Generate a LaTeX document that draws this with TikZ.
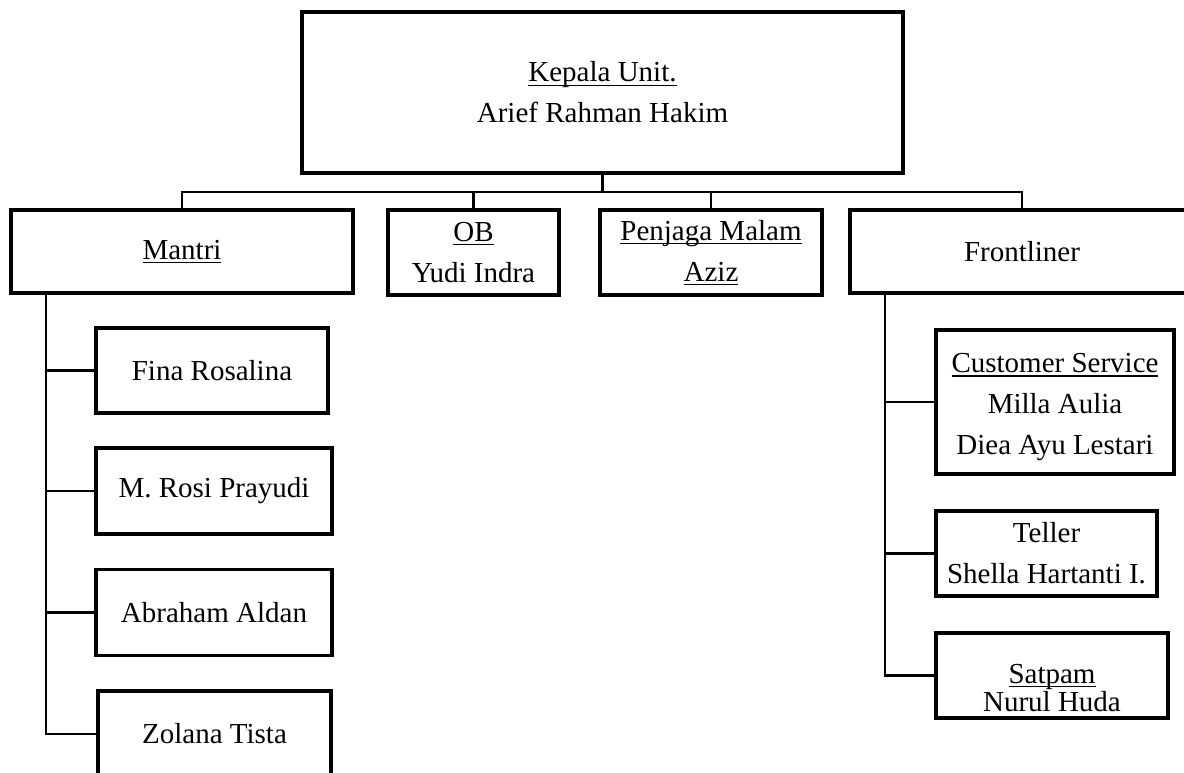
\documentclass[tikz,border=0pt]{standalone}
\usepackage{fontspec}
\setmainfont{Liberation Serif}

% underline at a fixed depth, as the word processor draws it
\newcommand{\undr}[1]{\setbox0\hbox{#1}\rlap{\rule[-4pt]{\wd0}{1.4pt}}\box0}

\tikzset{
  box/.style={draw, line width=3.4pt, rectangle, align=center, inner sep=0pt},
  link/.style={line width=2.3pt},
}

\begin{document}
\begin{tikzpicture}[x=1pt, y=-1pt, font=\fontsize{29}{41}\selectfont]
  \clip (0,0) rectangle (1184,773);
  \useasboundingbox (0,0) rectangle (1184,773);

  % head of the unit
  \node[box, minimum width=601pt, minimum height=161pt] (kepala) at (602.5,92.5)
    {\undr{Kepala Unit.}\\Arief Rahman Hakim};

  % second row
  \node[box, minimum width=342pt, minimum height=83pt] (mantri) at (182,251.5) {\undr{Mantri}};
  \node[box, minimum width=171pt, minimum height=85pt] (ob) at (473.5,252.5) {\undr{OB}\\Yudi Indra};
  \node[box, minimum width=222pt, minimum height=85pt] (penjaga) at (711,252.5) {\undr{Penjaga Malam}\\\undr{Aziz}};
  \node[box, minimum width=344pt, minimum height=83pt] (front) at (1022,251.5) {Frontliner};

  % mantri staff
  \node[box, minimum width=232pt, minimum height=85pt] (fina) at (212,370.5) {Fina Rosalina};
  \node[box, minimum width=236pt, minimum height=86pt] (rosi) at (214,491) {M. Rosi Prayudi};
  \node[box, minimum width=236pt, minimum height=86pt] (aldan) at (214,612.5) {Abraham Aldan};
  \node[box, minimum width=233pt, minimum height=86pt] (zolana) at (214.5,734) {Zolana Tista};

  % frontliner staff
  \node[box, minimum width=238pt, minimum height=144pt] (cs) at (1055,402)
    {\rule{0pt}{30pt}\undr{Customer Service}\\Milla Aulia\\Diea Ayu Lestari};
  \node[box, minimum width=221pt, minimum height=85pt] (teller) at (1046.5,553.5) {Teller\\Shella Hartanti I.};
  \node[box, minimum width=232pt, minimum height=85pt] (satpam) at (1052,675.5)
    {\rule{0pt}{44pt}\undr{Satpam}\\[-13pt]Nurul Huda};

  % connectors
  \coordinate (bus) at (602.5,192);
  \coordinate (mspine) at (46,293);
  \coordinate (fspine) at (885,293);

  \draw[link] (kepala.south) -- (bus);
  \draw[link] (mantri.north) |- (bus) -| (front.north);
  \draw[link] (ob.north) -- (ob.north |- bus);
  \draw[link] (penjaga.north) -- (penjaga.north |- bus);

  \draw[link] (mspine) |- (zolana.west);
  \foreach \n in {fina,rosi,aldan}
    \draw[link] (\n.west) -- (\n.west -| mspine);

  \draw[link] (fspine) |- (satpam.west);
  \foreach \n in {cs,teller}
    \draw[link] (\n.west) -- (\n.west -| fspine);
\end{tikzpicture}
\end{document}
